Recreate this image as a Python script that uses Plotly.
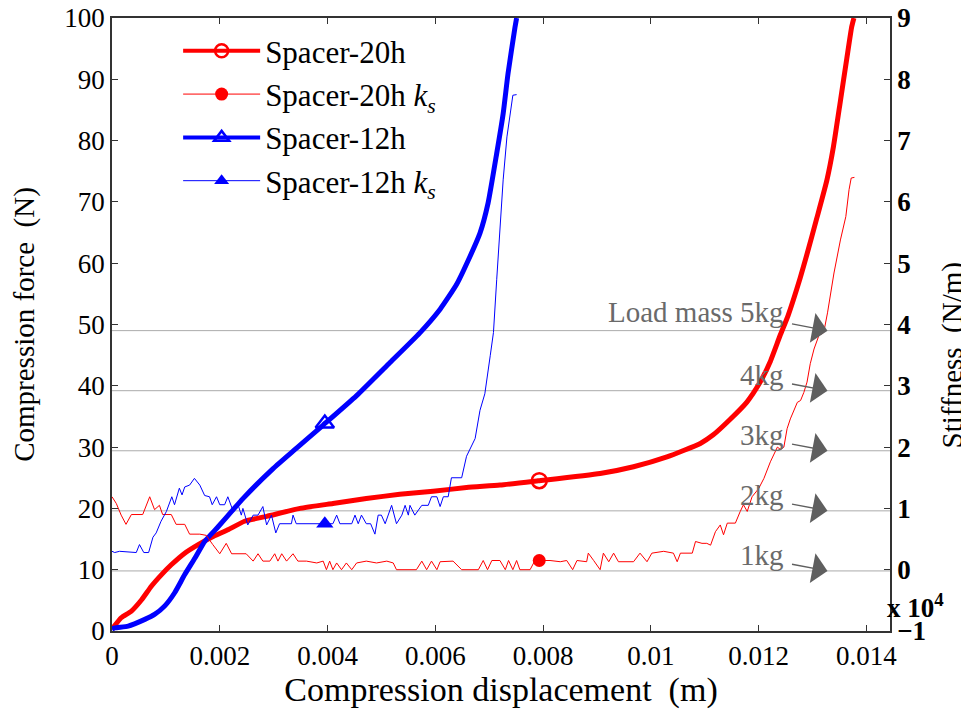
import numpy as np
import plotly.graph_objects as go

# ---------------- data ----------------
# Spacer-20h compression force (N) vs displacement (m)
x_f20 = [0.0, 0.00002, 0.00017, 0.00036, 0.00055, 0.00073, 0.00092, 0.0011, 0.00135, 0.0016,
         0.00185, 0.00215, 0.00246, 0.00287, 0.00349, 0.0041, 0.00472, 0.00534, 0.00596, 0.00658,
         0.0072, 0.00791, 0.00906, 0.00968, 0.0103, 0.01092, 0.01116, 0.01147, 0.01178, 0.01203,
         0.01221, 0.0124, 0.01255, 0.01277, 0.0129, 0.01308, 0.01327, 0.01339, 0.01352, 0.01364,
         0.01373, 0.01377]
f20 = [0.3, 0.54, 2.16, 3.25, 5.1, 7.3, 9.2, 10.8, 12.7, 14.1,
       15.3, 16.5, 17.9, 18.7, 20.0, 20.8, 21.6, 22.3, 22.8, 23.4,
       23.8, 24.5, 25.7, 26.8, 28.4, 30.6, 32.0, 34.5, 37.3, 40.6,
       43.8, 48.2, 51.5, 57.5, 61.5, 67.3, 73.6, 79.0, 86.5, 93.5,
       98.6, 100.0]

# Spacer-20h stiffness k_s (x 10^4 N/m)
x_k20 = [0.0, 0.00008, 0.00017, 0.00026, 0.00036, 0.00057, 0.0007, 0.00079, 0.00088, 0.00094,
         0.0011, 0.00119, 0.00135, 0.00144, 0.00163, 0.00175, 0.00187, 0.002, 0.00212, 0.00222,
         0.00249, 0.00262, 0.00271, 0.0028, 0.00293, 0.00302, 0.00308, 0.00315, 0.00324, 0.00336,
         0.00345, 0.00361, 0.0038, 0.00392, 0.00398, 0.00404, 0.0041, 0.00417, 0.00426, 0.00435,
         0.00445, 0.00454, 0.00472, 0.00491, 0.0051, 0.00522, 0.00528, 0.00565, 0.00575, 0.00584,
         0.00593, 0.00603, 0.00609, 0.00633, 0.00649, 0.0068, 0.00689, 0.00697, 0.00705, 0.0072,
         0.0073, 0.00736, 0.00744, 0.00751, 0.00757, 0.00776, 0.00785, 0.00813, 0.00832, 0.00844,
         0.00855, 0.00863, 0.00881, 0.00884, 0.00894, 0.00906, 0.00912, 0.00922, 0.00931, 0.0094,
         0.00968, 0.0098, 0.00993, 0.01002, 0.01024, 0.01042, 0.01049, 0.01055, 0.01077, 0.01083,
         0.01095, 0.01104, 0.01111, 0.0112, 0.01129, 0.01135, 0.01142, 0.01157, 0.01166, 0.01172,
         0.01179, 0.01188, 0.012, 0.0121, 0.01222, 0.01235, 0.01241, 0.01247, 0.01253, 0.01259,
         0.01272, 0.01278, 0.01284, 0.0129, 0.01296, 0.01303, 0.01312, 0.01321, 0.01328, 0.0134,
         0.01352, 0.01362, 0.01368, 0.01372, 0.01378]
k20 = [1.19, 1.08, 0.89, 0.74, 0.90, 0.90, 1.19, 0.98, 1.05, 0.90,
       0.90, 0.74, 0.74, 0.58, 0.58, 0.56, 0.41, 0.26, 0.43, 0.26,
       0.26, 0.14, 0.26, 0.14, 0.14, 0.26, 0.14, 0.26, 0.14, 0.26,
       0.14, 0.14, 0.11, 0.14, 0.0, 0.14, 0.0, 0.11, 0.0, 0.11,
       0.0, 0.11, 0.14, 0.11, 0.14, 0.11, 0.0, 0.0, 0.14, 0.0,
       0.14, 0.0, 0.13, 0.14, 0.0, 0.0, 0.15, 0.0, 0.15, 0.15,
       0.0, 0.15, 0.0, 0.15, 0.0, 0.0, 0.15, 0.15, 0.13, 0.15,
       0.0, 0.15, 0.13, 0.27, 0.15, 0.0, 0.27, 0.13, 0.27, 0.13,
       0.13, 0.27, 0.13, 0.27, 0.30, 0.27, 0.13, 0.27, 0.27, 0.46,
       0.43, 0.43, 0.40, 0.62, 0.73, 0.57, 0.76, 0.76, 0.95, 1.06,
       0.95, 1.19, 1.32, 1.49, 1.76, 2.0, 1.96, 2.0, 2.30, 2.46,
       2.73, 2.76, 2.89, 3.06, 3.36, 3.60, 3.82, 3.87, 4.19, 4.84,
       5.38, 5.76, 6.20, 6.39, 6.40]

# Spacer-12h compression force (N)
x_f12 = [0.0, 0.00005, 0.0003, 0.00061, 0.00079, 0.00098, 0.00116, 0.00135, 0.00154, 0.00172,
         0.00197, 0.00222, 0.00243, 0.00299, 0.00342, 0.00392, 0.00454, 0.00516, 0.00571, 0.00609,
         0.0064, 0.00664, 0.00683, 0.00698, 0.00714, 0.00726, 0.00735, 0.00748, 0.00751]
f12 = [0.3, 0.5, 0.8, 1.9, 2.7, 4.1, 6.2, 9.2, 11.9, 14.6,
       17.0, 19.5, 21.6, 26.5, 29.8, 33.6, 38.4, 43.8, 48.6, 52.5,
       56.6, 61.0, 64.9, 69.8, 77.9, 84.4, 90.9, 98.5, 100.0]

# Spacer-12h stiffness k_s (x 10^4 N/m)
x_k12 = [0.0, 0.00005, 0.00014, 0.00045, 0.00051, 0.00059, 0.00068, 0.00076, 0.00082, 0.00091,
         0.00101, 0.00111, 0.00116, 0.00125, 0.0013, 0.00135, 0.00144, 0.00153, 0.00163, 0.00172,
         0.00181, 0.00186, 0.00194, 0.002, 0.00209, 0.00215, 0.00225, 0.00234, 0.0024, 0.00243,
         0.00252, 0.00262, 0.00271, 0.0028, 0.00287, 0.00296, 0.00304, 0.00311, 0.00333, 0.00336,
         0.00342, 0.0041, 0.00417, 0.00423, 0.00445, 0.00451, 0.00457, 0.00463, 0.00472, 0.0048,
         0.00488, 0.00494, 0.005, 0.00507, 0.00519, 0.00528, 0.00538, 0.00544, 0.0055, 0.00553,
         0.00562, 0.00575, 0.00587, 0.00593, 0.00603, 0.00609, 0.00615, 0.00624, 0.0063, 0.00649,
         0.00658, 0.00674, 0.00683, 0.00692, 0.00702, 0.00708, 0.00714, 0.0072, 0.00726, 0.00733,
         0.00739, 0.00744, 0.00751]
k12 = [0.30, 0.28, 0.30, 0.28, 0.41, 0.28, 0.28, 0.53, 0.60, 0.79,
       0.95, 1.19, 1.06, 1.33, 1.22, 1.35, 1.38, 1.49, 1.38, 1.21,
       1.19, 1.06, 1.19, 1.06, 1.06, 1.19, 0.95, 1.06, 0.89, 1.00,
       0.73, 0.89, 0.89, 1.03, 0.73, 0.89, 0.60, 0.75, 0.75, 0.89,
       0.75, 0.75, 0.89, 0.75, 0.75, 0.89, 0.75, 0.89, 0.75, 0.75,
       0.58, 0.89, 0.89, 0.75, 1.05, 0.75, 0.89, 1.05, 0.89, 1.05,
       0.89, 1.05, 1.05, 1.19, 1.19, 1.03, 1.19, 1.19, 1.50, 1.50,
       1.85, 2.14, 2.60, 2.87, 3.49, 3.87, 4.73, 5.55, 6.36, 7.06,
       7.44, 7.74, 7.75]

# single marker positions on each curve (displacement, m)
marker_x20 = 0.00793
marker_x12 = 0.00395

# load-mass reference levels
load_mass_kg = [1, 2, 3, 4, 5]
load_labels = ["1kg", "2kg", "3kg", "4kg", "Load mass 5kg"]
g = 9.8
arrow_tip_x = 0.01328
label_x = 0.01251

x_tickvals = [0, 0.002, 0.004, 0.006, 0.008, 0.01, 0.012, 0.014]
x_ticktext = ["0", "0.002", "0.004", "0.006", "0.008", "0.01", "0.012", "0.014"]
y_tickvals = list(range(0, 101, 10))
y2_tickvals = list(range(-1, 10, 1))

# ---------------- figure ----------------
SERIF = "Liberation Serif"
RED = "#ff0000"
BLUE = "#0000ff"
TICK = 27

fig = go.Figure()

# curves
fig.add_trace(go.Scatter(x=x_f20, y=f20, mode="lines",
                         line=dict(color=RED, width=5, shape="spline", smoothing=0.5),
                         showlegend=False, yaxis="y"))
fig.add_trace(go.Scatter(x=x_f12, y=f12, mode="lines",
                         line=dict(color=BLUE, width=5, shape="spline", smoothing=0.5),
                         showlegend=False, yaxis="y"))
fig.add_trace(go.Scatter(x=x_k20, y=k20, mode="lines", line=dict(color=RED, width=1),
                         showlegend=False, yaxis="y2"))
fig.add_trace(go.Scatter(x=x_k12, y=k12, mode="lines", line=dict(color=BLUE, width=1),
                         showlegend=False, yaxis="y2"))

# single markers
fig.add_trace(go.Scatter(x=[marker_x20], y=[float(np.interp(marker_x20, x_f20, f20))], mode="markers",
                         marker=dict(symbol="circle-open", size=15, color=RED, line=dict(width=2.5)),
                         showlegend=False, yaxis="y"))
fig.add_trace(go.Scatter(x=[marker_x12], y=[float(np.interp(marker_x12, x_f12, f12))], mode="markers",
                         marker=dict(symbol="triangle-up-open", size=16, color=BLUE, line=dict(width=2.5)),
                         showlegend=False, yaxis="y"))
fig.add_trace(go.Scatter(x=[marker_x20], y=[float(np.interp(marker_x20, x_k20, k20))], mode="markers",
                         marker=dict(symbol="circle", size=13, color=RED),
                         showlegend=False, yaxis="y2"))
fig.add_trace(go.Scatter(x=[marker_x12], y=[float(np.interp(marker_x12, x_k12, k12))], mode="markers",
                         marker=dict(symbol="triangle-up", size=15, color=BLUE),
                         showlegend=False, yaxis="y2"))

# legend entries
legend_specs = [
    ("Spacer-20h", RED, 4, "circle-open", 2.5),
    ("Spacer-20h <i>k<sub>s</sub></i>", RED, 1, "circle", 0),
    ("Spacer-12h", BLUE, 4, "triangle-up-open", 2.5),
    ("Spacer-12h <i>k<sub>s</sub></i>", BLUE, 1, "triangle-up", 0),
]
for name, col, lw, sym, mlw in legend_specs:
    fig.add_trace(go.Scatter(x=[None], y=[None], mode="lines+markers", name=name,
                             line=dict(color=col, width=lw),
                             marker=dict(symbol=sym, size=13, color=col, line=dict(width=mlw, color=col))))

# load-mass levels and labels
for m, lab in zip(load_mass_kg, load_labels):
    yv = m * g
    fig.add_shape(type="line", xref="paper", x0=0, x1=1, yref="y", y0=yv, y1=yv,
                  line=dict(color="#ababab", width=1), layer="below")
    fig.add_annotation(x=arrow_tip_x, y=yv, xref="x", yref="y", text="", showarrow=True,
                       ax=-37, ay=-7, arrowhead=1, arrowsize=3.6, arrowwidth=1.4,
                       arrowcolor="#5f5f5f", standoff=0)
    fig.add_annotation(x=label_x, y=yv, xref="x", yref="y", text=lab, showarrow=False,
                       xanchor="right", yanchor="middle", yshift=19 if m == 5 else 16,
                       font=dict(family=SERIF, size=29, color="#6a6a6a"))

# x 10^4 multiplier
fig.add_annotation(xref="paper", yref="paper", x=1.033, y=0.04, text="<b>x 10<sup>4</sup></b>",
                   showarrow=False, xanchor="center", yanchor="middle",
                   font=dict(family=SERIF, size=27, color="black"))

# right axis title
fig.add_annotation(xref="paper", yref="paper", x=1.080, y=0.45, text="Stiffness  (N/m)",
                   showarrow=False, textangle=-90, xanchor="center", yanchor="middle",
                   font=dict(family=SERIF, size=29, color="black"))

axis_common = dict(showgrid=False, zeroline=False, showline=True, linecolor="#333333",
                   linewidth=1.5, ticks="inside", ticklen=6, tickcolor="#333333", tickwidth=1.2,
                   automargin=False, ticklabeloverflow="allow")

fig.update_layout(
    width=961, height=707,
    margin=dict(l=104, r=79, t=10, b=84),
    paper_bgcolor="white", plot_bgcolor="white",
    font=dict(family=SERIF, color="black"),
    xaxis=dict(range=[0, 0.01444], tickvals=x_tickvals, ticktext=x_ticktext, mirror="ticks",
               tickfont=dict(family=SERIF, size=TICK, color="black"),
               title=dict(text="Compression displacement  (m)",
                          font=dict(family=SERIF, size=34, color="black"), standoff=0),
               **axis_common),
    yaxis=dict(range=[0, 100], tickvals=y_tickvals,
               tickfont=dict(family=SERIF, size=TICK, color="black"),
               title=dict(text="Compression force  (N)",
                          font=dict(family=SERIF, size=29, color="black"), standoff=30),
               **axis_common),
    yaxis2=dict(range=[-1, 9], tickvals=y2_tickvals, overlaying="y", side="right",
                tickfont=dict(family=SERIF, size=TICK, color="black", weight="bold"),
                **axis_common),
    legend=dict(x=0.085, y=0.99, xanchor="left", yanchor="top", bgcolor="rgba(0,0,0,0)",
                font=dict(family=SERIF, size=31, color="black"), itemwidth=77, tracegroupgap=0),
)

fig.write_html("out.html")
